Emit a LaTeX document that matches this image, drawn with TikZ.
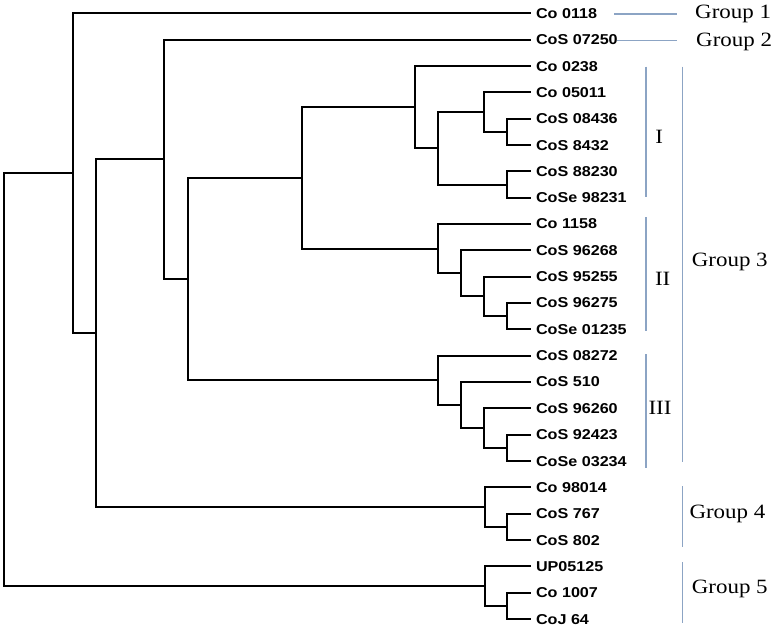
\documentclass[tikz,border=0pt]{standalone}
\usepackage{fontspec}
\newfontfamily\leaffont[FakeStretch=1.13]{Liberation Sans}
\newfontfamily\groupfont[FakeStretch=1.13]{Liberation Serif}
\definecolor{groupblue}{RGB}{140,164,196}

\begin{document}
\begin{tikzpicture}[x=1pt,y=-1pt]
% --- Layout & Styles --------------------------------------
\tikzstyle{branch}=[line width=2pt, line cap=rect]
\tikzstyle{leaf}=[anchor=west, inner xsep=6pt, inner ysep=0pt, outer sep=0pt, text height=10pt, text depth=0pt, font=\leaffont\bfseries\fontsize{14.3pt}{14pt}\selectfont]
\tikzstyle{group bar}=[draw=groupblue, line width=1.6pt]
\tikzstyle{group label}=[anchor=base west, inner sep=0pt, font=\groupfont\fontsize{20.3pt}{20pt}\selectfont]
\tikzstyle{cluster label}=[anchor=base, inner sep=0pt, font=\groupfont\fontsize{20.3pt}{20pt}\selectfont]
\useasboundingbox (0,0) rectangle (774,628);

% --- Leaves -----------------------------------------------
\node[leaf] (l0)  at (530,13.4)  {Co 0118};
\node[leaf] (l1)  at (530,39.7)  {CoS 07250};
\node[leaf] (l2)  at (530,66.1)  {Co 0238};
\node[leaf] (l3)  at (530,92.4)  {Co 05011};
\node[leaf] (l4)  at (530,118.7) {CoS 08436};
\node[leaf] (l5)  at (530,145.1) {CoS 8432};
\node[leaf] (l6)  at (530,171.4) {CoS 88230};
\node[leaf] (l7)  at (530,197.7) {CoSe 98231};
\node[leaf] (l8)  at (530,224.0) {Co 1158};
\node[leaf] (l9)  at (530,250.4) {CoS 96268};
\node[leaf] (l10) at (530,276.7) {CoS 95255};
\node[leaf] (l11) at (530,303.0) {CoS 96275};
\node[leaf] (l12) at (530,329.4) {CoSe 01235};
\node[leaf] (l13) at (530,355.7) {CoS 08272};
\node[leaf] (l14) at (530,382.0) {CoS 510};
\node[leaf] (l15) at (530,408.4) {CoS 96260};
\node[leaf] (l16) at (530,434.7) {CoS 92423};
\node[leaf] (l17) at (530,461.0) {CoSe 03234};
\node[leaf] (l18) at (530,487.3) {Co 98014};
\node[leaf] (l19) at (530,513.7) {CoS 767};
\node[leaf] (l20) at (530,540.0) {CoS 802};
\node[leaf] (l21) at (530,566.3) {UP05125};
\node[leaf] (l22) at (530,592.7) {Co 1007};
\node[leaf] (l23) at (530,619.0) {CoJ 64};

% --- Internal nodes ---------------------------------------
\coordinate (n4-5)   at (507,131.9);
\coordinate (n3-5)   at (484,112.15);
\coordinate (n6-7)   at (507,184.55);
\coordinate (n3-7)   at (438,148.35);
\coordinate (clI)    at (415,107.2);
\coordinate (n11-12) at (507,316.2);
\coordinate (n10-12) at (484,296.45);
\coordinate (n9-12)  at (461,273.4);
\coordinate (clII)   at (438,248.7);
\coordinate (n16-17) at (507,447.85);
\coordinate (n15-17) at (484,428.1);
\coordinate (n14-17) at (461,405.05);
\coordinate (clIII)  at (438,380.4);
\coordinate (clI-II) at (302,177.95);
\coordinate (grp3)   at (187.5,279.2);
\coordinate (grp2-3) at (164,159.45);
\coordinate (n19-20) at (507,526.85);
\coordinate (grp4)   at (484.5,507.1);
\coordinate (grp2-4) at (95.7,333.3);
\coordinate (grp1-4) at (72.7,173.35);
\coordinate (n22-23) at (507,605.85);
\coordinate (grp5)   at (484.5,586.1);
\coordinate (root)   at (4,379.7);

% --- Edges ------------------------------------------------
\draw[branch] (root) |- (grp1-4);
\draw[branch] (root) |- (grp5);
\draw[branch] (grp1-4) |- (l0);
\draw[branch] (grp1-4) |- (grp2-4);
\draw[branch] (grp2-4) |- (grp2-3);
\draw[branch] (grp2-4) |- (grp4);
\draw[branch] (grp2-3) |- (l1);
\draw[branch] (grp2-3) |- (grp3);
\draw[branch] (grp3) |- (clI-II);
\draw[branch] (grp3) |- (clIII);
\draw[branch] (clI-II) |- (clI);
\draw[branch] (clI-II) |- (clII);
\draw[branch] (clI) |- (l2);
\draw[branch] (clI) |- (n3-7);
\draw[branch] (n3-7) |- (n3-5);
\draw[branch] (n3-7) |- (n6-7);
\draw[branch] (n3-5) |- (l3);
\draw[branch] (n3-5) |- (n4-5);
\draw[branch] (n4-5) |- (l4);
\draw[branch] (n4-5) |- (l5);
\draw[branch] (n6-7) |- (l6);
\draw[branch] (n6-7) |- (l7);
\draw[branch] (clII) |- (l8);
\draw[branch] (clII) |- (n9-12);
\draw[branch] (n9-12) |- (l9);
\draw[branch] (n9-12) |- (n10-12);
\draw[branch] (n10-12) |- (l10);
\draw[branch] (n10-12) |- (n11-12);
\draw[branch] (n11-12) |- (l11);
\draw[branch] (n11-12) |- (l12);
\draw[branch] (clIII) |- (l13);
\draw[branch] (clIII) |- (n14-17);
\draw[branch] (n14-17) |- (l14);
\draw[branch] (n14-17) |- (n15-17);
\draw[branch] (n15-17) |- (l15);
\draw[branch] (n15-17) |- (n16-17);
\draw[branch] (n16-17) |- (l16);
\draw[branch] (n16-17) |- (l17);
\draw[branch] (grp4) |- (l18);
\draw[branch] (grp4) |- (n19-20);
\draw[branch] (n19-20) |- (l19);
\draw[branch] (n19-20) |- (l20);
\draw[branch] (grp5) |- (l21);
\draw[branch] (grp5) |- (n22-23);
\draw[branch] (n22-23) |- (l22);
\draw[branch] (n22-23) |- (l23);

% --- Group bars & labels ----------------------------------
\draw[group bar] (614.3,14) -- (676.7,14);
\draw[group bar] (617.3,40.7) -- (676.7,40.7);
\draw[group bar] (682.3,66.7) -- (682.3,461.7);
\draw[group bar] (645.7,66.7) -- (645.7,196.7);
\draw[group bar] (645.7,217.3) -- (645.7,331);
\draw[group bar] (645.7,354.3) -- (645.7,468.3);
\draw[group bar] (682.3,486) -- (682.3,546.7);
\draw[group bar] (682.3,562.3) -- (682.3,623.3);

\node[group label] (g1) at (695,18.3) {Group 1};
\node[group label] (g2) at (696,46.7) {Group 2};
\node[group label] (g3) at (691.7,266.7) {Group 3};
\node[group label] (g4) at (689.3,518.3) {Group 4};
\node[group label] (g5) at (691.7,593.3) {Group 5};
\node[cluster label] (cI)   at (659.3,143.3) {I};
\node[cluster label] (cII)  at (662.7,286) {II};
\node[cluster label] (cIII) at (660,414.3) {III};

\end{tikzpicture}
\end{document}
